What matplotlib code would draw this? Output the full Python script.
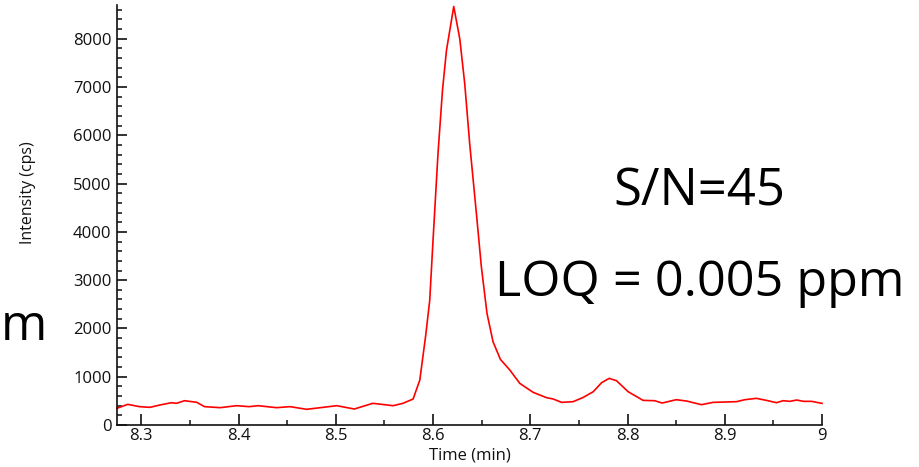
import matplotlib
matplotlib.use("Agg")
import matplotlib.pyplot as plt
from matplotlib.ticker import MultipleLocator, FixedLocator

# Chromatogram data (time in min, intensity in cps)
time_min = [8.275, 8.286, 8.298, 8.309, 8.319, 8.331, 8.336, 8.3445, 8.357, 8.365,
            8.381, 8.398, 8.411, 8.420, 8.439, 8.453, 8.470, 8.487, 8.501, 8.519,
            8.538, 8.559, 8.569, 8.5795, 8.5864, 8.5925, 8.5966, 8.600, 8.6051, 8.6097,
            8.6138, 8.6213, 8.6275, 8.6326, 8.6377, 8.6446, 8.6497, 8.6555, 8.6617, 8.6693,
            8.679, 8.6892, 8.703, 8.7167, 8.7236, 8.7322, 8.744, 8.7545, 8.7648, 8.7733,
            8.7811, 8.7887, 8.8006, 8.816, 8.828, 8.8356, 8.850, 8.8606, 8.876, 8.888,
            8.912, 8.9206, 8.9326, 8.9429, 8.9532, 8.960, 8.967, 8.9739, 8.981, 8.9893,
            9.000]
intensity = [346, 428, 380, 366, 414, 462, 449, 503, 470, 380,
             359, 400, 380, 400, 359, 380, 325, 366, 400, 331,
             449, 400, 449, 538, 931, 1862, 2586, 3828, 5621, 6931,
             7759, 8669, 8000, 7069, 5828, 4379, 3276, 2310, 1724, 1359,
             1138, 862, 676, 566, 538, 469, 483, 572, 690, 876,
             966, 917, 690, 510, 503, 455, 524, 497, 421, 469,
             483, 524, 552, 510, 462, 503, 490, 517, 490, 490,
             448]

x_ticks = [8.3, 8.4, 8.5, 8.6, 8.7, 8.8, 8.9, 9.0]
x_tick_labels = ["8.3", "8.4", "8.5", "8.6", "8.7", "8.8", "8.9", "9"]
y_ticks = [0, 1000, 2000, 3000, 4000, 5000, 6000, 7000, 8000]
y_tick_labels = [str(v) for v in y_ticks]

x_label = "Time (min)"
y_label = "Intensity (cps)"
annot_sn = "S/N=45"
annot_loq = "LOQ = 0.005 ppm"
annot_cut = "m"

small_font = "Open Sans"
big_font = "Open Sans"

W, H = 919, 467
fig = plt.figure(figsize=(W / 100, H / 100), dpi=100)
ax = fig.add_axes([117 / W, 1 - 425 / H, (822 - 117) / W, (425 - 5) / H])

ax.plot(time_min, intensity, color="#ff0000", lw=1.2, clip_on=False)

ax.set_xlim(8.275, 9.0)
ax.set_ylim(0, 8700)

ax.spines["top"].set_visible(False)
ax.spines["right"].set_visible(False)
for s in ("left", "bottom"):
    ax.spines[s].set_linewidth(1.2)
    ax.spines[s].set_color("#111111")

ax.xaxis.set_major_locator(FixedLocator(x_ticks))
ax.set_xticklabels(x_tick_labels, family=small_font)
ax.xaxis.set_minor_locator(MultipleLocator(0.05))
ax.yaxis.set_major_locator(FixedLocator(y_ticks))
ax.set_yticklabels(y_tick_labels, family=small_font)
ax.yaxis.set_minor_locator(MultipleLocator(200))

ax.tick_params(axis="both", which="major", direction="in", length=7, width=1.2,
               labelsize=12, color="#111111", labelcolor="#111111")
ax.tick_params(axis="both", which="minor", direction="in", length=3.5, width=1.1,
               color="#111111")
ax.tick_params(axis="x", which="major", length=8, pad=2)
ax.tick_params(axis="y", which="major", pad=4)

fig.text(470 / W, 1 - 456 / H, x_label, ha="center", va="center", fontsize=12,
         family=small_font, color="#111111")
fig.text(28 / W, 1 - 193 / H, y_label, ha="center", va="center", rotation=90,
         fontsize=11.5, family=small_font, color="#111111")

fig.text(699 / W, 1 - 205 / H, annot_sn, ha="center", va="baseline",
         fontsize=36.5, family=big_font, color="black")
fig.text(700 / W, 1 - 296 / H, annot_loq, ha="center", va="baseline",
         fontsize=36.3, family=big_font, color="black")
fig.text(1 / W, 1 - 340 / H, annot_cut, ha="left", va="baseline",
         fontsize=36, family=big_font, color="black")

fig.savefig("out.png", dpi=100)
